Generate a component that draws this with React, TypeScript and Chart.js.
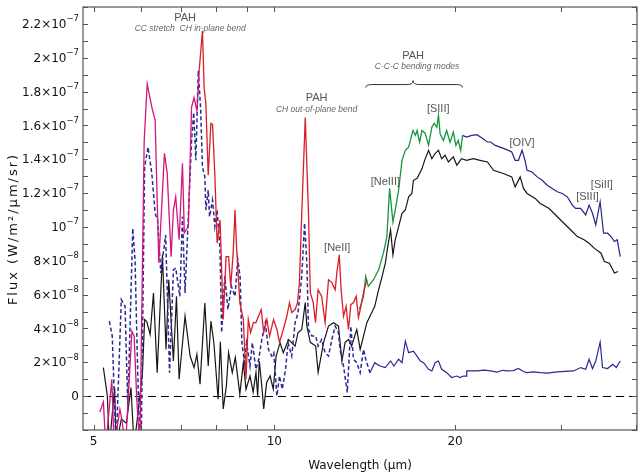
import React, { useEffect, useRef } from 'react';
import { Chart, registerables } from 'chart.js';

Chart.register(...registerables);

// Wavelength in micron, flux in units of 1e-9 W/m^2/um/sr
const magentaWave = [5.12, 5.19, 5.24, 5.36, 5.41, 5.53, 5.57, 5.65, 5.79, 5.84, 5.90, 5.97, 6.07, 6.14, 6.25, 6.33, 6.42, 6.56, 6.63, 6.73, 6.79, 6.85, 6.94, 7.03, 7.08, 7.19, 7.28, 7.35, 7.43, 7.50];
const magentaFlux = [-9.4, -3.5, -30, 10, -30, -7.6, -13.5, -30, 38.4, 35.5, -2, -30, 151, 184.5, 170.8, 163, 78.8, 143.5, 131.8, 82.4, 110, 117.8, 92.4, 137.6, 96.5, 100.2, 170.8, 176.5, 168.8, 193.5];

const redWave = [7.50, 7.59, 7.64, 7.69, 7.76, 7.84, 7.89, 7.96, 8.03, 8.12, 8.22, 8.31, 8.39, 8.46, 8.54, 8.60, 8.65, 8.76, 8.88, 8.97, 9.05, 9.13, 9.23, 9.32, 9.51, 9.60, 9.72, 9.82, 9.97, 10.10, 10.20, 10.35, 10.49, 10.60, 10.69, 10.83, 10.93, 11.01, 11.11, 11.26, 11.40, 11.48, 11.61, 11.71, 11.83, 11.99, 12.15, 12.31, 12.47, 12.63, 12.71, 12.83, 12.92, 13.04, 13.17, 13.29, 13.41, 13.55, 13.69, 13.81, 13.94, 14.08, 14.26];
const redFlux = [193.5, 215.9, 182, 173, 130.6, 161.2, 160.6, 130.6, 90.6, 104.1, 45.3, 82.5, 82.5, 64.9, 84.7, 110, 88.4, 55.3, 45.3, 10, 45.3, 37.6, 43.5, 43.5, 51.2, 37.6, 45.3, 35.5, 45.3, 39.4, 31.8, 39.4, 47.2, 55.3, 49.4, 51.2, 55.3, 67.1, 108.2, 164.7, 108.2, 61.2, 55.3, 43.5, 62.9, 59, 43.5, 68.8, 67.1, 62.9, 72.9, 83.5, 62.9, 47.2, 53.1, 39.4, 54.1, 55.3, 59, 46.5, 53.1, 61.2, 68.8];

const greenWave = [13.86, 14.08, 14.20, 14.34, 14.63, 14.92, 15.20, 15.40, 15.56, 15.76, 15.90, 16.11, 16.32, 16.53, 16.74, 17.02, 17.18, 17.29, 17.46, 17.62, 17.84, 18.07, 18.30, 18.46, 18.65, 18.77, 18.89, 19.13, 19.37, 19.62, 19.87, 20.07, 20.25, 20.44, 20.59];
const greenFlux = [51.2, 59, 70.8, 64.9, 68.8, 74.7, 84.7, 94.3, 122.9, 103.1, 110, 121.8, 139.4, 145.3, 147.2, 157, 154.1, 157, 150.1, 157, 155.3, 148.4, 159, 161.2, 158.9, 165.9, 155, 151.1, 157, 150.1, 156.1, 148.2, 151.2, 145.2, 154.1];

const blueWave = [20.59, 20.90, 21.33, 21.76, 22.20, 22.65, 22.93, 23.33, 23.77, 24.39, 24.86, 25.19, 25.51, 25.87, 26.20, 26.37, 26.88, 27.41, 27.94, 28.49, 29.04, 29.61, 30.19, 30.77, 31.37, 31.76, 32.39, 33.02, 33.45, 33.89, 34.32, 34.90, 35.36, 35.92, 36.39, 36.87, 37.26, 37.70];
const blueFlux = [154.1, 153.1, 154.1, 154.5, 152.4, 150.2, 150.2, 148.2, 147.2, 145.7, 144.3, 139.4, 139.4, 145.3, 138.4, 133.5, 132.5, 129.6, 127.6, 124.7, 122.8, 120.8, 119.8, 117.8, 112.9, 111, 111, 107.1, 112.9, 108.1, 101.2, 114.9, 96.3, 96.3, 94.3, 91.4, 92.4, 82.5];

const blackWave = [
  5.19, 5.27, 5.31, 5.42, 5.45, 5.56, 5.67, 5.77, 5.84, 6.03,
  6.08, 6.13, 6.21, 6.29, 6.38, 6.51, 6.60, 6.67, 6.79, 6.87,
  6.94, 7.10, 7.24, 7.35, 7.43, 7.52, 7.66, 7.76, 7.84, 7.93,
  8.06, 8.13, 8.22, 8.32, 8.39, 8.51, 8.61, 8.76, 8.88, 8.97,
  9.11, 9.22, 9.32, 9.38, 9.44, 9.53, 9.60, 9.71, 9.84, 9.96,
  10.07, 10.22, 10.35, 10.56, 10.83, 10.95, 11.11, 11.26, 11.33, 11.48,
  11.72, 11.83, 12.08, 12.31, 12.55, 12.79, 12.96, 13.12, 13.29, 13.45,
  13.72, 13.90, 14.08, 14.26, 14.52, 14.70, 14.92, 15.12, 15.31, 15.45,
  15.62, 15.76, 15.90, 16.11, 16.32, 16.53, 16.74, 16.95, 17.05, 17.30,
  17.62, 17.84, 18.07, 18.30, 18.53, 18.77, 19.00, 19.25, 19.50, 19.87,
  20.14, 20.51, 20.90, 21.45, 22.02, 22.65, 23.18, 24.08, 24.86, 25.19,
  25.68, 26.01, 26.37, 27.20, 27.73, 28.66, 29.42, 30.37, 31.18, 31.98,
  32.81, 33.45, 34.11, 35.02, 35.47, 36.16, 36.87, 37.37
];
const blackFlux = [
  16.9, 0.2, -30, 5.1, -30, -13.5, -16, 5.1, -30, 13.9,
  45.3, 44.1, 36.5, 61, 13.9, 83.5, 27.6, 68.8, 20.8, 59,
  10, 47.2, 23.7, 16.9, 24.7, 7.1, 55.1, 17.8, 44.3, 31.6,
  -1.8, 32.1, -7.6, 6.1, 25.7, 13.9, 22.8, 1.2, 19.8, 4.1,
  11.9, 2.4, 13.9, 0.2, 20.8, 6.1, -7.6, 8.1, 11.9, 4.1,
  23.7, 31.6, 25.7, 33.5, 29.6, 37.5, 39.4, 55.3, 41.4, 31.8,
  29.6, 14.1, 31.8, 41.4, 43.4, 41.4, 20.8, 31.8, 33.5, 29.6,
  39.4, 27.6, 35.5, 43.4, 49.2, 53.1, 62.9, 70.8, 78.6, 88.4,
  98.2, 83.5, 92.4, 100.2, 108.1, 110, 117.8, 119.8, 127.6, 128.8,
  134.5, 140.4, 145.3, 140.4, 143.4, 145.3, 140.4, 142.4, 138.4, 141.4,
  136.5, 140.4, 139.4, 140.4, 139.4, 138.4, 133.5, 131.6, 129.6, 123.7,
  129.6, 122.8, 119.8, 116.9, 113.9, 111, 107.1, 102.2, 98.2, 94.3,
  92.4, 90.4, 87.5, 84.5, 79.6, 78.6, 72.8, 73.7
];

const dashedWave = [
  5.31, 5.37, 5.45, 5.56, 5.64, 5.70, 5.81, 5.86, 5.94, 6.00,
  6.08, 6.16, 6.25, 6.33, 6.39, 6.47, 6.59, 6.69, 6.79, 6.85,
  6.96, 7.03, 7.10, 7.28, 7.34, 7.40, 7.47, 7.54, 7.59, 7.66,
  7.69, 7.76, 7.80, 7.89, 7.96, 8.03, 8.12, 8.17, 8.27, 8.37,
  8.48, 8.60, 8.69, 8.77, 8.83, 8.92, 8.99, 9.11, 9.19, 9.32,
  9.42, 9.53, 9.66, 9.78, 9.90, 9.98, 10.10, 10.20, 10.31, 10.44,
  10.54, 10.69, 10.83, 10.95, 11.11, 11.23, 11.33, 11.40, 11.55, 11.72,
  11.83, 11.99, 12.15, 12.31, 12.47, 12.63, 12.79, 12.87, 13.04, 13.23,
  13.41, 13.55, 13.72, 13.90, 14.08, 14.20, 14.43
];
const dashedFlux = [
  44.3, 35.5, -30, 57.1, 53.1, -5.7, 99.2, 80.6, -5.7, -30,
  135.5, 147.2, 131.6, 108.1, 104.1, 72.8, 95.3, 13.9, 74.7, 75.7,
  59, 106.1, 61, 151.2, 167.6, 139.4, 192.4, 168.8, 135.5, 129.6,
  110, 121.8, 106.1, 115.9, 100.2, 110, 86.5, 37.5, 70.8, 51.2,
  64.9, 59, 80.6, 70.8, 31.6, 19.8, 31.6, 17.8, 31.6, 15.9,
  21.8, 33.5, 43.4, 27.6, 23.7, 25.7, 0.2, 11.9, 4.1, 15.9,
  31.6, 23.7, 43.4, 49.2, 70.8, 102.2, 78.6, 39.4, 35.5, 35.5,
  29.6, 33.5, 25.7, 23.7, 33.5, 41.4, 37.5, 27.6, 17.8, 2.2,
  41.4, 21.8, 19.8, 13.9, 27.6, 21.8, 13.9
];

const lowWave = [
  14.43, 14.70, 14.99, 15.31, 15.62, 15.82, 16.11, 16.32, 16.53, 16.74,
  17.05, 17.29, 17.51, 17.73, 18.07, 18.30, 18.53, 18.77, 19.00, 19.37,
  19.74, 20.14, 20.40, 20.66, 20.90, 20.92, 21.19, 21.76, 22.35, 22.93,
  23.50, 24.00, 24.39, 25.00, 25.51, 26.00, 26.37, 27.00, 27.73, 28.50,
  29.61, 30.50, 31.50, 32.39, 33.02, 33.45, 33.89, 34.32, 34.90, 35.22,
  35.92, 36.62, 37.13, 37.70
];
const lowFlux = [
  13.9, 19.8, 17.8, 16.9, 20.8, 17.8, 21.8, 19.8, 32.5, 25.7,
  26.6, 23.7, 20.8, 19.8, 15.9, 14.9, 19.8, 20.8, 15.9, 13.9,
  11, 11.9, 11, 11.9, 11.9, 14.9, 14.9, 14.9, 15.4, 14.9,
  14.2, 15.3, 14.9, 15.1, 16.4, 14.6, 13.9, 14.4, 13.9, 13.6,
  14.3, 14.6, 14.9, 16.9, 15.9, 21.8, 16.3, 20.8, 31.9, 16.9,
  16.3, 18.8, 16.9, 20.8
];

// Axis ticks and labels
const X_MIN = 4.8;
const X_MAX = 40.2;
const Y_MIN = -20;
const Y_MAX = 230;
const xTickValues = [5, 6, 7, 8, 9, 10, 20, 30, 40];
const xLabelValues = [5, 10, 20];
const xLabelText = ['5', '10', '20'];
const yTickValues = [-20, -10, 0, 10, 20, 30, 40, 50, 60, 70, 80, 90, 100, 110, 120, 130, 140, 150, 160, 170, 180, 190, 200, 210, 220, 230];
const yLabelValues = [0, 20, 40, 60, 80, 100, 120, 140, 160, 180, 200, 220];
const yLabelBase = ['0', '2×10', '4×10', '6×10', '8×10', '10', '1.2×10', '1.4×10', '1.6×10', '1.8×10', '2×10', '2.2×10'];
const yLabelExp = ['', '−8', '−8', '−8', '−8', '−7', '−7', '−7', '−7', '−7', '−7', '−7'];

// Annotations (text, wavelength, flux, style)
const noteText = ['PAH', 'CC stretch  CH in-plane bend', 'PAH', 'CH out-of-plane bend', 'PAH', 'C-C-C bending modes', '[NeII]', '[NeIII]', '[SIII]', '[OIV]', '[SIII]', '[SiII]'];
const noteWave = [7.10, 7.24, 11.76, 11.76, 17.03, 17.29, 12.73, 15.31, 18.75, 25.87, 33.24, 35.13];
const noteFlux = [223.5, 217, 176.5, 169.2, 201.2, 194.7, 87.6, 126.5, 170, 149.4, 117.6, 124.7];
const noteKind = ['head', 'sub', 'head', 'sub', 'head', 'sub', 'line', 'line', 'line', 'line', 'line', 'line'];
const braceWave = [14.2, 17.03, 20.59];
const braceFlux = [182.4, 186.5];

const toPoints = (w: number[], f: number[]) => w.map((x, i) => ({ x, y: f[i] }));

const decorPlugin = {
  id: 'decor',
  beforeDatasetsDraw(chart: any) {
    const { ctx, chartArea: a, scales } = chart;
    const y = scales.y;
    ctx.save();
    ctx.beginPath();
    ctx.rect(a.left, a.top, a.right - a.left, a.bottom - a.top);
    ctx.clip();
    ctx.setLineDash([8, 5]);
    ctx.strokeStyle = '#000';
    ctx.lineWidth = 1;
    const y0 = Math.round(y.getPixelForValue(0)) + 0.5;
    ctx.beginPath();
    ctx.moveTo(a.left, y0);
    ctx.lineTo(a.right, y0);
    ctx.stroke();
    ctx.restore();
  },
  afterDatasetsDraw(chart: any) {
    const { ctx, chartArea: a, scales } = chart;
    const xs = scales.x;
    const ys = scales.y;
    ctx.save();
    // frame
    ctx.strokeStyle = '#555';
    ctx.lineWidth = 1.2;
    ctx.strokeRect(a.left, a.top, a.right - a.left, a.bottom - a.top);
    // ticks
    ctx.lineWidth = 1;
    ctx.beginPath();
    const tl = 5;
    xTickValues.forEach((v) => {
      const px = Math.round(xs.getPixelForValue(v)) + 0.5;
      ctx.moveTo(px, a.bottom);
      ctx.lineTo(px, a.bottom - tl);
      ctx.moveTo(px, a.top);
      ctx.lineTo(px, a.top + tl);
    });
    yTickValues.forEach((v) => {
      const py = Math.round(ys.getPixelForValue(v)) + 0.5;
      ctx.moveTo(a.left, py);
      ctx.lineTo(a.left + tl, py);
      ctx.moveTo(a.right, py);
      ctx.lineTo(a.right - tl, py);
    });
    ctx.stroke();

    // x labels
    ctx.fillStyle = '#111';
    ctx.font = '12px "DejaVu Sans"';
    ctx.textAlign = 'center';
    ctx.textBaseline = 'middle';
    xLabelValues.forEach((v, i) => {
      ctx.fillText(xLabelText[i], xs.getPixelForValue(v), 442);
    });
    // y labels
    yLabelValues.forEach((v, i) => {
      const py = ys.getPixelForValue(v) + 1;
      const right = a.left - 4;
      ctx.font = '8.5px "DejaVu Sans"';
      const ew = yLabelExp[i] ? ctx.measureText(yLabelExp[i]).width : 0;
      ctx.textAlign = 'left';
      if (yLabelExp[i]) ctx.fillText(yLabelExp[i], right - ew, py - 6);
      ctx.font = '12px "DejaVu Sans"';
      ctx.textAlign = 'right';
      ctx.fillText(yLabelBase[i], right - ew, py);
    });
    // axis titles
    ctx.font = '12px "DejaVu Sans"';
    ctx.textAlign = 'center';
    ctx.fillText('Wavelength (μm)', (a.left + a.right) / 2, 466);
    ctx.save();
    ctx.translate(14, 229);
    ctx.rotate(-Math.PI / 2);
    (ctx as any).letterSpacing = '2px';
    ctx.font = '13px "DejaVu Sans"';
    ctx.fillText('Flux (W/m²/μm/sr)', 0, 0);
    ctx.restore();

    // annotations
    noteText.forEach((t, i) => {
      const px = xs.getPixelForValue(noteWave[i]);
      const py = ys.getPixelForValue(noteFlux[i]);
      if (noteKind[i] === 'head') {
        ctx.font = '11px "Liberation Sans"';
        ctx.fillStyle = '#555';
      } else if (noteKind[i] === 'sub') {
        ctx.font = 'italic 8.5px "Liberation Sans"';
        ctx.fillStyle = '#666';
      } else {
        ctx.font = '11px "Liberation Sans"';
        ctx.fillStyle = '#555';
      }
      ctx.textAlign = 'center';
      ctx.textBaseline = 'middle';
      ctx.fillText(t, px, py);
    });
    // brace
    const bx0 = xs.getPixelForValue(braceWave[0]);
    const bxm = xs.getPixelForValue(braceWave[1]);
    const bx1 = xs.getPixelForValue(braceWave[2]);
    const yb = ys.getPixelForValue(braceFlux[0]);
    const yt = ys.getPixelForValue(braceFlux[1]);
    const ym = (yb + yt) / 2 + 0.5;
    const r = 6;
    ctx.strokeStyle = '#333';
    ctx.lineWidth = 1;
    ctx.beginPath();
    ctx.moveTo(bx0, yb);
    ctx.quadraticCurveTo(bx0, ym, bx0 + r, ym);
    ctx.lineTo(bxm - r, ym);
    ctx.quadraticCurveTo(bxm, ym, bxm, yt);
    ctx.quadraticCurveTo(bxm, ym, bxm + r, ym);
    ctx.lineTo(bx1 - r, ym);
    ctx.quadraticCurveTo(bx1, ym, bx1, yb);
    ctx.stroke();
    ctx.restore();
  },
};

export default function App() {
  const ref = useRef<HTMLCanvasElement | null>(null);
  useEffect(() => {
    if (!ref.current) return;
    const line = (data: any, color: string, width: number, dash: number[] = []) => ({
      data,
      borderColor: color,
      borderWidth: width,
      borderDash: dash,
      pointRadius: 0,
      tension: 0,
      fill: false,
    });
    const chart = new Chart(ref.current, {
      type: 'line',
      data: {
        datasets: [
          line(toPoints(magentaWave, magentaFlux), '#d4157f', 1.3),
          line(toPoints(redWave, redFlux), '#d81e2a', 1.3),
          line(toPoints(greenWave, greenFlux), '#15963f', 1.3),
          line(toPoints(blueWave, blueFlux), '#24248a', 1.2),
          line(toPoints(dashedWave, dashedFlux), '#2a2a92', 1.5, [4, 2.5]),
          line(toPoints(lowWave, lowFlux), '#2a2a92', 1.2),
          line(toPoints(blackWave, blackFlux), '#161616', 1.2),
        ] as any,
      },
      options: {
        animation: false,
        responsive: false,
        maintainAspectRatio: false,
        layout: { padding: { left: 83, top: 7, right: 1, bottom: 45 } },
        plugins: { legend: { display: false }, tooltip: { enabled: false } },
        scales: {
          x: { type: 'logarithmic', min: X_MIN, max: X_MAX, display: false },
          y: { type: 'linear', min: Y_MIN, max: Y_MAX, display: false },
        },
      } as any,
      plugins: [decorPlugin],
    });
    return () => chart.destroy();
  }, []);
  return (
    <div style={{ position: 'fixed', left: 0, top: 0, width: 638, height: 475, background: '#fff' }}>
      <canvas ref={ref} width={638} height={475} style={{ width: 638, height: 475 }} />
    </div>
  );
}
